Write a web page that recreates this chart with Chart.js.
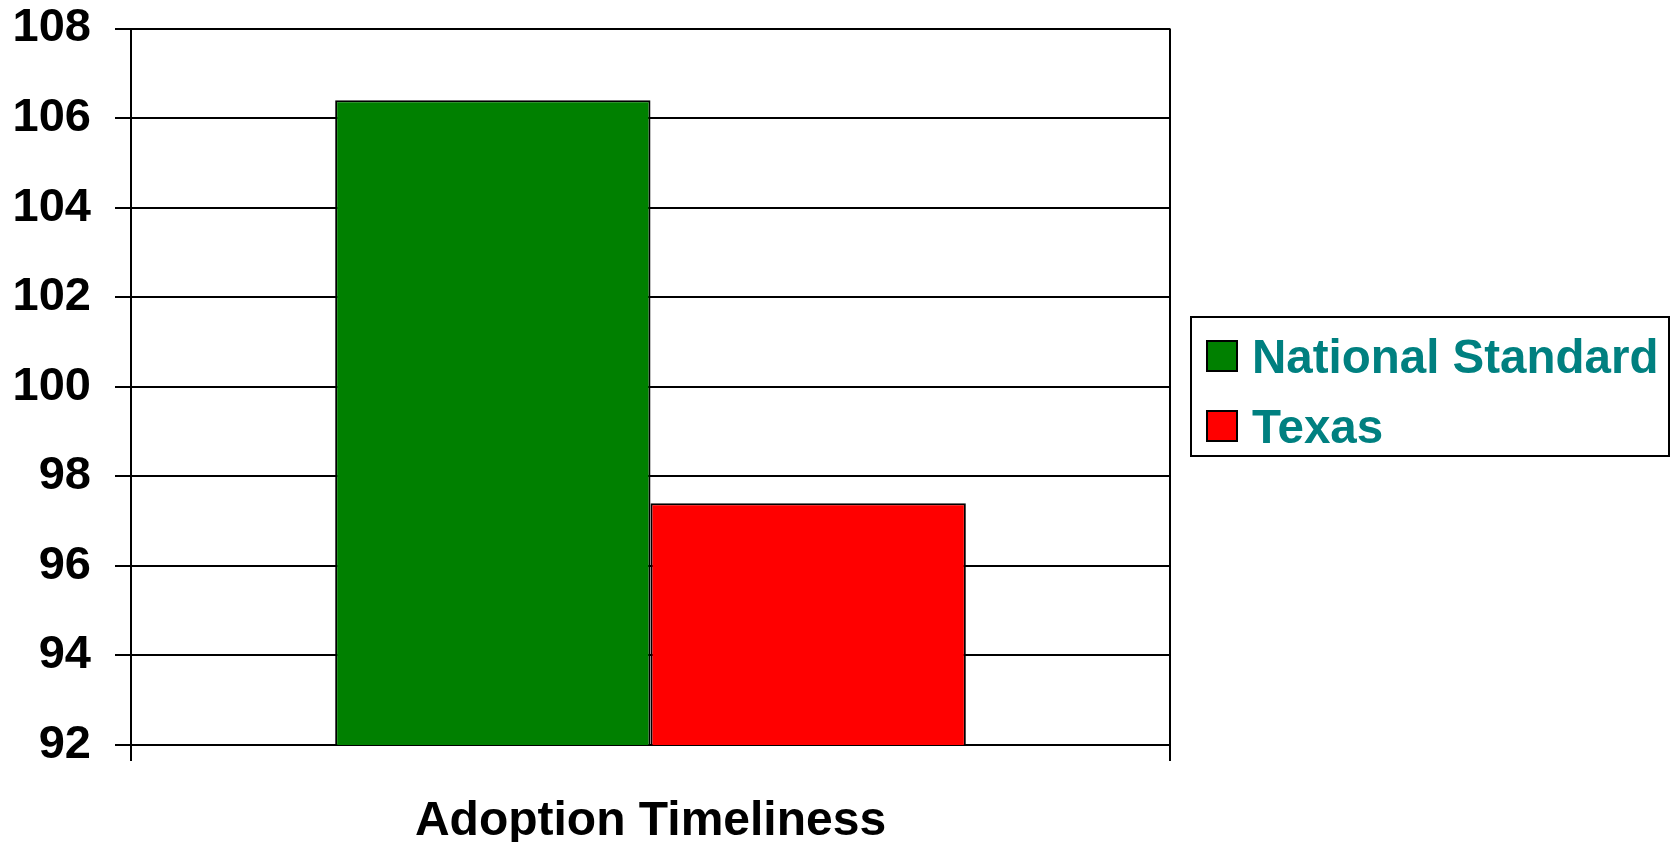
<html lang="en">
  <head>
    <meta charset="utf-8">
    <title>Adoption Timeliness</title>
    <style>
      html, body { margin: 0; padding: 0; background: white; }
      .chartBox { width: 1671px; height: 844px; }
    </style>
  </head>
  <body>
    <div class="chartBox">
      <canvas id="myChart"></canvas>
    </div>

    <script src="https://cdn.jsdelivr.net/npm/chart.js/dist/chart.umd.min.js"></script>
    <script>
    // data
    const categories = ['Adoption Timeliness'];
    const seriesNames = ['National Standard', 'Texas'];
    const nationalValues = [106.4];
    const texasValues = [97.4];
    const yTicks = [92, 94, 96, 98, 100, 102, 104, 106, 108];
    const barColors = ['#008000', '#ff0000'];

    const FONT = '"Liberation Sans", Arial, sans-serif';

    const data = {
      labels: categories,
      datasets: [{
        label: seriesNames[0],
        data: nationalValues,
        backgroundColor: barColors[0],
        borderColor: '#000',
        borderWidth: 2
      }, {
        label: seriesNames[1],
        data: texasValues,
        backgroundColor: barColors[1],
        borderColor: '#000',
        borderWidth: 2
      }]
    };

    // boxed legend on the right, like the old excel chart
    const boxedLegend = {
      id: 'boxedLegend',
      afterDraw(chart) {
        const {ctx, data} = chart;
        ctx.save();
        ctx.lineWidth = 2;
        ctx.strokeStyle = '#000';
        ctx.strokeRect(1191, 317, 478, 139);
        ctx.font = 'bold 47.5px ' + FONT;
        ctx.textBaseline = 'alphabetic';
        data.datasets.forEach((ds, i) => {
          const y = 341 + i * 70;
          ctx.fillStyle = ds.backgroundColor;
          ctx.fillRect(1207, y, 30, 30);
          ctx.strokeRect(1207, y, 30, 30);
          ctx.fillStyle = '#008080';
          ctx.fillText(ds.label, 1252, y + 32);
        });
        ctx.restore();
      }
    };

    const config = {
      type: 'bar',
      data,
      options: {
        responsive: true,
        maintainAspectRatio: false,
        animation: false,
        categoryPercentage: 0.607,
        barPercentage: 1.0,
        layout: {
          padding: {top: 28.5, left: 12.6, right: 501, bottom: 2}
        },
        scales: {
          x: {
            afterFit: (axis) => { axis.height = 97; },
            grid: {
              offset: true,
              color: '#000',
              lineWidth: 2,
              tickLength: 16
            },
            border: {color: '#000', width: 2},
            ticks: {
              color: '#000',
              padding: 37,
              font: {family: FONT, size: 48, weight: 'bold', lineHeight: 1}
            }
          },
          y: {
            min: yTicks[0],
            max: yTicks[yTicks.length - 1],
            afterBuildTicks: (axis) => {
              axis.ticks = yTicks.map(v => ({value: v}));
            },
            afterFit: (axis) => {
              axis.width = 118.4;
              axis.paddingTop = 0;
              axis.paddingBottom = 0;
            },
            grid: {
              color: '#000',
              lineWidth: 2,
              tickLength: 16
            },
            border: {color: '#000', width: 2},
            ticks: {
              color: '#000',
              padding: 24,
              font: {family: FONT, size: 47, weight: 'bold'}
            }
          }
        },
        plugins: {
          legend: {display: false},
          tooltip: {enabled: false}
        }
      },
      plugins: [boxedLegend]
    };

    const myChart = new Chart(
      document.getElementById('myChart'),
      config
    );
    </script>
  </body>
</html>
